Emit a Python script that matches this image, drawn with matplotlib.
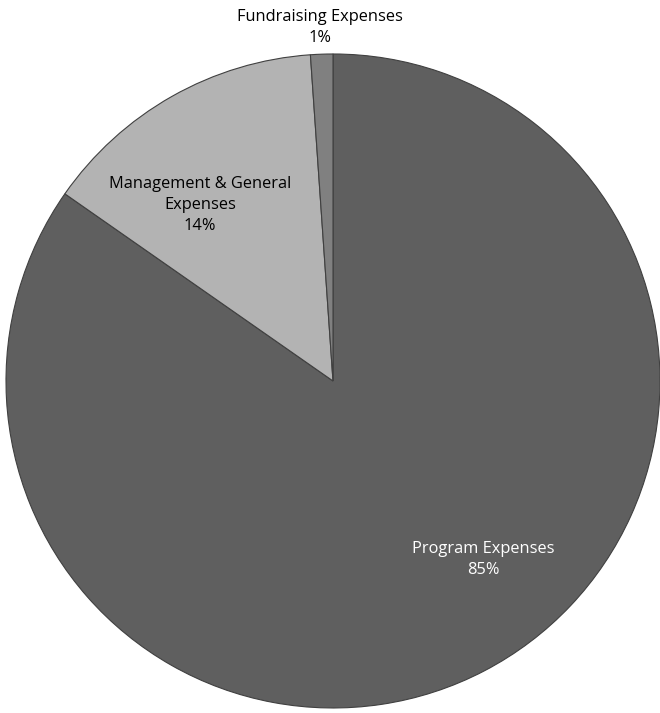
import matplotlib.pyplot as plt

labels = ['Program Expenses', 'Management & General\nExpenses', 'Fundraising Expenses']
values = [84.7, 14.2, 1.1]
colors = ['#5f5f5f', '#b3b3b3', '#808080']
text_colors = ['white', 'black', 'black']
label_pos = [(0.460, -0.547), (-0.407, 0.538), (-0.040, 1.080)]

plt.rcParams['font.family'] = ['Open Sans', 'DejaVu Sans']

fig = plt.figure(figsize=(6.6, 7.13), dpi=100)
ax = fig.add_axes([0.00909, 0.00701, 0.9909, 0.9173])
ax.pie(values, colors=colors, startangle=90, counterclock=False,
       wedgeprops={'edgecolor': '#404040', 'linewidth': 0.8})
ax.set_xlim(-1.0, 1.0)
ax.set_ylim(-1.0, 1.0)
ax.set_aspect('equal')
ax.axis('off')

total = sum(values)
for lab, v, c, (x, y) in zip(labels, values, text_colors, label_pos):
    ax.text(x, y, f'{lab}\n{v / total * 100:.0f}%', ha='center', va='center',
            color=c, fontsize=11.8, linespacing=1.42, clip_on=False)

fig.savefig('out.png', dpi=100)
